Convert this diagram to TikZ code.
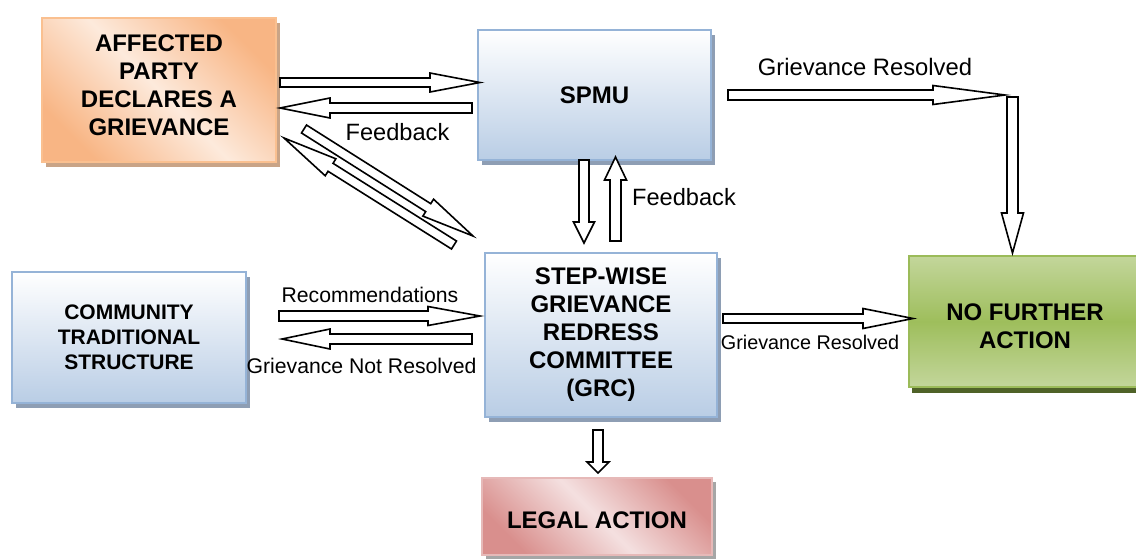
\documentclass[tikz,border=0pt]{standalone}
\usepackage{fontspec}
\setmainfont{Liberation Sans}
\usetikzlibrary{calc,shadows}
\definecolor{blueBot}{HTML}{B9CDE5}
\definecolor{blueBorder}{HTML}{95B3D7}
\definecolor{blueShadow}{HTML}{8E9EB4}
\definecolor{orDark}{HTML}{F8B584}
\definecolor{orLight}{HTML}{FDEADC}
\definecolor{orBorder}{HTML}{FAC090}
\definecolor{orShadow}{HTML}{C9A487}
\definecolor{grLight}{HTML}{C3D69B}
\definecolor{grMid}{HTML}{9EBE5C}
\definecolor{grBorder}{HTML}{9BBB59}
\definecolor{grShadow}{HTML}{4F6228}
\definecolor{rdDark}{HTML}{D98F8D}
\definecolor{rdLight}{HTML}{F4E0E0}
\definecolor{rdBorder}{HTML}{E6B9B8}
\definecolor{rdShadow}{HTML}{A6A6A6}
\newcommand\blockarrow[5]{%
  \coordinate (bah) at ($(#2)!#5!(#1)$);
  \draw[barrow] ($(#1)!#3!90:(#2)$) -- ($(bah)!#3!90:(#2)$) -- ($(bah)!#4!90:(#2)$) -- (#2)
    -- ($(bah)!#4!-90:(#2)$) -- ($(bah)!#3!-90:(#2)$) -- ($(#1)!#3!-90:(#2)$) -- cycle;
}
\tikzset{
  boxbase/.style={rectangle, line width=2pt, align=center, inner sep=2pt,
    font=\bfseries\fontsize{24}{28}\selectfont},
  bluebox/.style={boxbase, draw=blueBorder, top color=white, bottom color=blueBot,
    drop shadow={shadow xshift=4pt, shadow yshift=-5pt, fill=blueShadow, opacity=1}},
  orbox/.style={boxbase, draw=orBorder, top color=orDark, bottom color=orDark, middle color=orLight,
    shading angle=-45,
    drop shadow={shadow xshift=4pt, shadow yshift=-5pt, fill=orShadow, opacity=1}},
  grbox/.style={boxbase, draw=grBorder, top color=grLight, bottom color=grLight, middle color=grMid,
    drop shadow={shadow xshift=3pt, shadow yshift=-6pt, fill=grShadow, opacity=1}},
  rdbox/.style={boxbase, draw=rdBorder, top color=rdDark, bottom color=rdDark, middle color=rdLight,
    shading angle=-45,
    drop shadow={shadow xshift=4pt, shadow yshift=-4pt, fill=rdShadow, opacity=1}},
  barrow/.style={draw=black, fill=white, line width=1.6pt, line join=miter},
  lbl/.style={anchor=base, inner sep=0pt, font=\fontsize{23.6}{28}\selectfont},
  lblsmall/.style={anchor=base, inner sep=0pt, font=\fontsize{21.2}{25}\selectfont},
}
\begin{document}
\begin{tikzpicture}[x=1pt, y=-1pt]
\useasboundingbox (0,0) rectangle (1136,558);

% boxes
\node[orbox, minimum width=234pt, minimum height=144pt, text depth=10pt] (aff) at (159,90)
  {AFFECTED\\PARTY\\DECLARES A\\GRIEVANCE};
\node[bluebox, minimum width=233pt, minimum height=130pt] (spmu) at (594.5,95) {SPMU};
\node[bluebox, minimum width=234pt, minimum height=131pt,
  font=\bfseries\fontsize{21}{25}\selectfont] (comm) at (129,337.5)
  {COMMUNITY\\TRADITIONAL\\STRUCTURE};
\node[bluebox, minimum width=232pt, minimum height=164pt] (grc) at (601,335)
  {STEP-WISE\\GRIEVANCE\\REDRESS\\COMMITTEE\\(GRC)};
\node[grbox, minimum width=232pt, minimum height=131pt, text height=54pt] (nfa) at (1025,321.5)
  {NO FURTHER\\ACTION};
\node[rdbox, minimum width=230pt, minimum height=77pt, text height=24pt] (legal) at (597,516.5)
  {LEGAL ACTION};

% arrow end points
\coordinate (a1s) at (280,82.5);   \coordinate (a1e) at (480,82.5);
\coordinate (a2s) at (472,108);    \coordinate (a2e) at (280,108);
\coordinate (a3s) at (304,129);    \coordinate (a3e) at (473,236);
\coordinate (a4s) at (454,245);    \coordinate (a4e) at (284,138);
\coordinate (a5s) at (584,160);    \coordinate (a5e) at (584,243);
\coordinate (a6s) at (615.5,241);  \coordinate (a6e) at (615.5,157);
\coordinate (a7s) at (728,95);     \coordinate (a7e) at (1005,95);
\coordinate (a8s) at (1012.5,97);  \coordinate (a8e) at (1012.5,253);
\coordinate (a9s) at (279,316);    \coordinate (a9e) at (480,316);
\coordinate (a10s) at (472,339);   \coordinate (a10e) at (282,339);
\coordinate (a11s) at (723,318.5); \coordinate (a11e) at (913,318.5);
\coordinate (a12s) at (598,430);   \coordinate (a12e) at (598,473);

\blockarrow{a1s}{a1e}{4.5pt}{9.5pt}{50pt}
\blockarrow{a2s}{a2e}{5pt}{10pt}{50pt}
\blockarrow{a3s}{a3e}{4.7pt}{10pt}{53pt}
\blockarrow{a4s}{a4e}{4.7pt}{10pt}{55pt}
\blockarrow{a5s}{a5e}{5pt}{10.5pt}{21pt}
\blockarrow{a6s}{a6e}{5.5pt}{11pt}{23pt}
\blockarrow{a7s}{a7e}{5pt}{9.5pt}{72pt}
\blockarrow{a8s}{a8e}{5.5pt}{11pt}{40pt}
\blockarrow{a9s}{a9e}{5pt}{9.5pt}{52pt}
\blockarrow{a10s}{a10e}{5pt}{10pt}{48pt}
\blockarrow{a11s}{a11e}{4.5pt}{10pt}{50pt}
\blockarrow{a12s}{a12e}{5pt}{11pt}{11pt}

% labels
\node[lbl] (fb1) at (397.5,140) {Feedback};
\node[lbl, font=\fontsize{23.8}{28}\selectfont] (gr1) at (865,75) {Grievance Resolved};
\node[lbl] (fb2) at (684,205) {Feedback};
\node[lblsmall] (rec) at (370,302) {Recommendations};
\node[lblsmall] (gnr) at (361.5,373) {Grievance Not Resolved};
\node[lbl, font=\fontsize{19.8}{24}\selectfont] (gr2) at (810,349) {Grievance Resolved};
\end{tikzpicture}
\end{document}
